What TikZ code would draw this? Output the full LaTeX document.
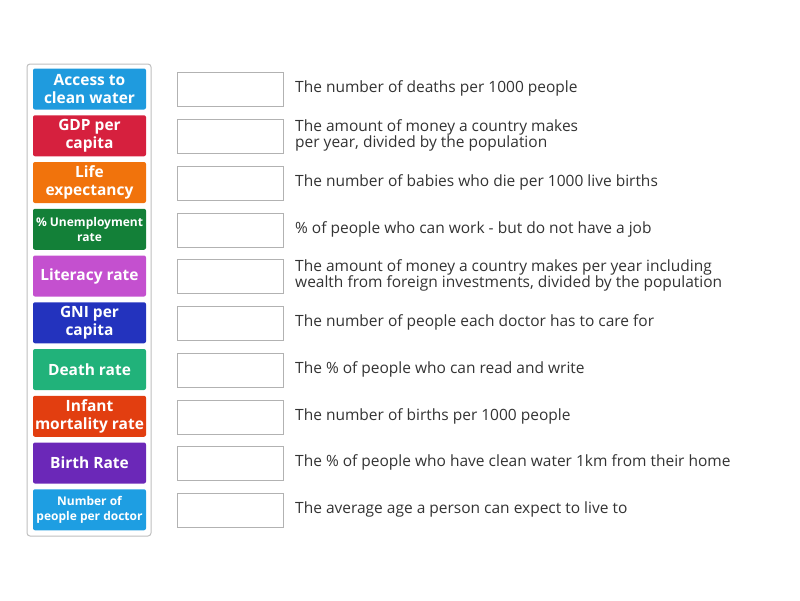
\documentclass[tikz,border=0pt]{standalone}
\usepackage{fontspec}
\setmainfont{Open Sans}
\definecolor{tileA}{RGB}{31,155,222}
\definecolor{tileB}{RGB}{214,32,62}
\definecolor{tileC}{RGB}{241,115,12}
\definecolor{tileD}{RGB}{19,128,56}
\definecolor{tileE}{RGB}{196,80,207}
\definecolor{tileF}{RGB}{35,51,190}
\definecolor{tileG}{RGB}{33,178,122}
\definecolor{tileH}{RGB}{226,62,16}
\definecolor{tileI}{RGB}{107,40,184}
\definecolor{tileJ}{RGB}{30,158,226}
\definecolor{textgray}{RGB}{51,51,51}
\tikzset{
  tile/.style={fill=#1,rounded corners=2pt,minimum width=113pt,minimum height=41pt,
    align=center,text=white,inner sep=0pt,
    font=\fontsize{15.5}{18}\selectfont\bfseries},
  small tile/.style={tile=#1,font=\fontsize{12}{14.5}\selectfont\bfseries},
  slot/.style={draw=black!30,minimum width=106pt,minimum height=34pt,inner sep=0pt},
  desc/.style={anchor=west,align=left,text=textgray,inner sep=0pt,
    font=\fontsize{15.5}{16.3}\selectfont}
}
\begin{document}
\begin{tikzpicture}[x=1pt,y=-1pt]
    \useasboundingbox (0,0) rectangle (800,600);
    \draw[black!25,line width=1pt,rounded corners=3pt] (27,64) rectangle (151,536);
    \foreach \i/\col/\kind/\name in {0/tileA/tile/{Access to\\clean water},1/tileB/tile/{GDP per\\capita},
        2/tileC/tile/{Life\\expectancy},3/tileD/small tile/{\% Unemployment\\rate},
        4/tileE/tile/{Literacy rate},5/tileF/tile/{GNI per\\capita},6/tileG/tile/{Death rate},
        7/tileH/tile/{Infant\\mortality rate},8/tileI/tile/{Birth Rate},
        9/tileJ/small tile/{Number of\\people per doctor}}
        {\node[\kind=\col] (tile\i) at (89.5,89+\i*46.75) {\name};
         \node[slot] (slot\i) at (230,89.5+\i*46.75) {};
        }
    \node[desc] (desc0) at (295,88.5) {The number of deaths per 1000 people};
    \node[desc] (desc1) at (295,135.5) {The amount of money a country makes\\per year, divided by the population};
    \node[desc] (desc2) at (295,182) {The number of babies who die per 1000 live births};
    \node[desc] (desc3) at (295,229) {\% of people who can work - but do not have a job};
    \node[desc] (desc4) at (295,275.5) {The amount of money a country makes per year including\\wealth from foreign investments, divided by the population};
    \node[desc] (desc5) at (295,322.5) {The number of people each doctor has to care for};
    \node[desc] (desc6) at (295,369) {The \% of people who can read and write};
    \node[desc] (desc7) at (295,416) {The number of births per 1000 people};
    \node[desc] (desc8) at (295,462.5) {The \% of people who have clean water 1km from their home};
    \node[desc] (desc9) at (295,509.5) {The average age a person can expect to live to};
\end{tikzpicture}
\end{document}
